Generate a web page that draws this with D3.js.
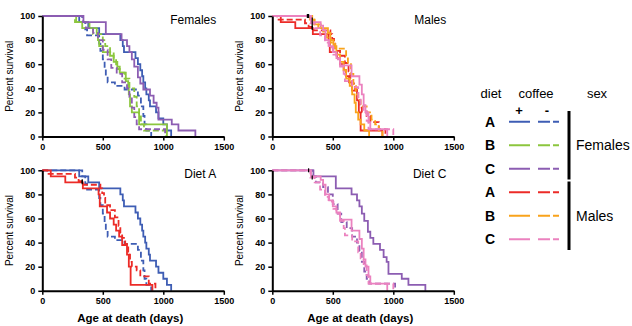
<!DOCTYPE html>
<html>
<head>
<meta charset="utf-8">
<script src="https://cdn.jsdelivr.net/npm/d3@7/dist/d3.min.js"></script>
<style>
  body { margin: 0; background: #fff; }
  svg { font-family: "Liberation Sans", Arial, Helvetica, sans-serif; }
  .axis path, .axis line { stroke: #000; }
  .axis path { stroke-width: 2px; }
  .axis line { stroke-width: 1.5px; }
  .axis text { font-size: 9px; font-weight: bold; fill: #000; }
</style>
</head>
<body>
<div id="chart"></div>
<script>
// survival steps: [age at death (days), percent surviving after that death]
const femaleAPlus  = [[305,95],[380,90],[470,85],[645,80],[665,75],[675,70],[770,65],[790,60],[810,55],[825,50],[835,45],[850,40],[860,35],[880,30],[890,25],[940,20],[960,15],[1000,10],[1030,5],[1065,0]];
const femaleAMinus = [[330,95],[355,89],[370,84],[470,77],[480,71],[500,64],[515,57],[525,50],[540,45],[600,42],[680,39],[790,34],[815,25],[835,17],[845,10],[860,5],[900,0]];
const femaleBPlus  = [[280,95],[330,90],[450,86],[460,80],[470,75],[500,70],[560,67],[590,62],[620,56],[640,53],[690,46],[710,40],[715,35],[725,25],[740,20],[800,10],[1030,0]];
const femaleBMinus = [[270,95],[390,90],[420,85],[500,80],[520,75],[560,70],[590,65],[610,58],[640,53],[680,48],[720,40],[760,33],[780,25],[800,18],[815,10],[840,5],[1020,0]];
const femaleCPlus  = [[340,95],[525,85],[655,80],[700,75],[720,70],[740,64],[760,58],[790,49],[810,44],[835,39],[890,34],[920,28],[945,24],[960,14],[1070,10],[1125,5],[1265,0]];
const femaleCMinus = [[335,95],[360,90],[420,86],[460,80],[500,72],[540,64],[570,57],[615,52],[660,45],[700,40],[720,33],[740,24],[760,16],[780,10],[800,6],[1015,0]];
const maleAPlus    = [[70,95],[190,90],[335,85],[465,80],[475,70],[535,65],[560,60],[590,55],[610,50],[635,45],[660,38],[700,30],[715,20],[730,5],[910,0]];
const maleAMinus   = [[40,97],[270,94],[300,91],[340,88],[480,85],[495,81],[510,77],[520,71],[560,67],[600,61],[630,54],[645,48],[660,44],[685,39],[710,30],[725,24],[740,20],[780,17],[810,12],[880,6],[935,0]];
const maleBPlus    = [[330,97],[345,93],[400,90],[460,86],[480,80],[505,75],[530,68],[560,62],[590,55],[610,48],[640,42],[660,35],[680,28],[690,20],[710,14],[730,10],[760,5],[800,0]];
const maleBMinus   = [[310,97],[350,93],[380,90],[420,87],[450,82],[480,78],[520,73],[610,66],[625,60],[650,52],[670,42],[690,35],[710,30],[730,25],[780,20],[820,14],[850,10],[880,5],[910,0]];
const maleCPlus    = [[320,95],[400,92],[420,88],[440,80],[470,75],[500,70],[530,65],[560,59],[655,50],[720,43],[740,35],[755,26],[770,20],[795,12],[810,6],[950,0]];
const maleCMinus   = [[315,94],[350,90],[395,84],[435,78],[465,74],[505,68],[530,64],[560,58],[590,52],[600,46],[660,41],[710,32],[730,27],[755,21],[780,13],[795,6],[1000,0]];

// censored animals (small black marks): [group key, day]
const censored = [["MA+",330],["MA-",330],["MB-",290],["MB+",330],["MC+",300],["MC-",330]];

const xTicks = [0, 500, 1000, 1500];
const yTicks = [0, 20, 40, 60, 80, 100];
const diets = ["A", "B", "C"];
const sexes = ["Females", "Males"];

const groups = [
  { key: "FA+", sex: "Females", diet: "A", coffee: "+", data: femaleAPlus },
  { key: "FA-", sex: "Females", diet: "A", coffee: "-", data: femaleAMinus },
  { key: "FB+", sex: "Females", diet: "B", coffee: "+", data: femaleBPlus },
  { key: "FB-", sex: "Females", diet: "B", coffee: "-", data: femaleBMinus },
  { key: "FC+", sex: "Females", diet: "C", coffee: "+", data: femaleCPlus },
  { key: "FC-", sex: "Females", diet: "C", coffee: "-", data: femaleCMinus },
  { key: "MA+", sex: "Males", diet: "A", coffee: "+", data: maleAPlus },
  { key: "MA-", sex: "Males", diet: "A", coffee: "-", data: maleAMinus },
  { key: "MB+", sex: "Males", diet: "B", coffee: "+", data: maleBPlus },
  { key: "MB-", sex: "Males", diet: "B", coffee: "-", data: maleBMinus },
  { key: "MC+", sex: "Males", diet: "C", coffee: "+", data: maleCPlus },
  { key: "MC-", sex: "Males", diet: "C", coffee: "-", data: maleCMinus }
];

const colors = {
  FA: "#3e5db4", FB: "#8cc63e", FC: "#8c5db2",
  MA: "#ec2b27", MB: "#f9a31b", MC: "#eb82bf"
};
const colorOf = g => colors[g.key.slice(0, 2)];
const DASH = "6,3";

const panels = [
  { title: "Females", left: 42.3,  top: 16,    keys: ["FA+","FA-","FB+","FB-","FC+","FC-"] },
  { title: "Males",   left: 272.3, top: 16,    keys: ["MA+","MA-","MB+","MB-","MC+","MC-"] },
  { title: "Diet A",  left: 42.3,  top: 170.3, keys: ["FA+","FA-","MA+","MA-"] },
  { title: "Diet C",  left: 272.3, top: 170.3, keys: ["FC+","FC-","MC+","MC-"] }
];
const pw = 181.5, ph = 120.5;

const svg = d3.select("#chart").append("svg")
  .attr("width", 632).attr("height", 326);

const x = d3.scaleLinear().domain([0, 1500]).range([0, pw]);
const y = d3.scaleLinear().domain([0, 100]).range([ph, 0]);

const line = d3.line()
  .x(d => x(d[0]))
  .y(d => y(d[1]))
  .curve(d3.curveStepAfter);

const byKey = new Map(groups.map(g => [g.key, g]));

panels.forEach((p, pi) => {
  const g = svg.append("g").attr("transform", `translate(${p.left},${p.top})`);

  p.keys.forEach(k => {
    const grp = byKey.get(k);
    g.append("path")
      .datum([[0, 100]].concat(grp.data))
      .attr("fill", "none")
      .attr("stroke", colorOf(grp))
      .attr("stroke-width", 1.8)
      .attr("stroke-dasharray", grp.coffee === "-" ? DASH : null)
      .attr("d", line);
  });

  // censor marks
  censored.filter(c => p.keys.includes(c[0])).forEach(c => {
    const grp = byKey.get(c[0]);
    let level = 100;
    grp.data.forEach(s => { if (s[0] <= c[1]) level = s[1]; });
    g.append("line")
      .attr("x1", x(c[1])).attr("x2", x(c[1]))
      .attr("y1", y(level) - 2).attr("y2", y(level) + 2)
      .attr("stroke", "#000").attr("stroke-width", 1.2);
  });

  g.append("g").attr("class", "axis")
    .attr("transform", `translate(0,${ph})`)
    .call(d3.axisBottom(x).tickValues(xTicks).tickFormat(d3.format("d")).tickSize(4).tickSizeOuter(0));
  g.append("g").attr("class", "axis")
    .call(d3.axisLeft(y).tickValues(yTicks).tickFormat(d3.format("d")).tickSize(4).tickSizeOuter(0));

  g.append("text")
    .attr("transform", `translate(${-29},${ph / 2}) rotate(-90)`)
    .attr("text-anchor", "middle")
    .attr("font-size", 10)
    .text("Percent survival");

  g.append("text")
    .attr("x", 174).attr("y", 8)
    .attr("text-anchor", "end")
    .attr("font-size", 12)
    .text(p.title);

  if (pi >= 2) {
    g.append("text")
      .attr("x", 88).attr("y", ph + 31)
      .attr("text-anchor", "middle")
      .attr("font-size", 11.5)
      .attr("font-weight", "bold")
      .text("Age at death (days)");
  }
});

// legend
const lg = svg.append("g");
lg.append("text").attr("x", 491).attr("y", 98).attr("text-anchor", "middle").attr("font-size", 13).text("diet");
lg.append("text").attr("x", 536).attr("y", 98).attr("text-anchor", "middle").attr("font-size", 13).text("coffee");
lg.append("text").attr("x", 597).attr("y", 98).attr("text-anchor", "middle").attr("font-size", 13).text("sex");
lg.append("text").attr("x", 519).attr("y", 115).attr("text-anchor", "middle").attr("font-size", 13).attr("font-weight", "bold").text("+");
lg.append("text").attr("x", 547).attr("y", 115).attr("text-anchor", "middle").attr("font-size", 13).attr("font-weight", "bold").text("-");

const rowY = d3.scaleBand().domain(d3.range(6)).range([110, 251]);
sexes.forEach((s, si) => {
  diets.forEach((d, di) => {
    const i = si * 3 + di;
    const cy = rowY(i) + rowY.bandwidth() / 2;
    const col = colors[s[0] + d];
    lg.append("text").attr("x", 490).attr("y", cy + 5)
      .attr("text-anchor", "middle").attr("font-size", 14).attr("font-weight", "bold").text(d);
    lg.append("line").attr("x1", 509).attr("x2", 530).attr("y1", cy).attr("y2", cy)
      .attr("stroke", col).attr("stroke-width", 2);
    lg.append("line").attr("x1", 538).attr("x2", 559).attr("y1", cy).attr("y2", cy)
      .attr("stroke", col).attr("stroke-width", 2).attr("stroke-dasharray", "12,3");
  });
  const y0 = rowY(si * 3) + 1, y1 = rowY(si * 3 + 2) + rowY.bandwidth() - 1;
  lg.append("line").attr("x1", 569).attr("x2", 569).attr("y1", y0).attr("y2", y1)
    .attr("stroke", "#000").attr("stroke-width", 3);
  lg.append("text").attr("x", 576).attr("y", (y0 + y1) / 2 + 5)
    .attr("font-size", 14).text(s);
});
</script>
</body>
</html>
